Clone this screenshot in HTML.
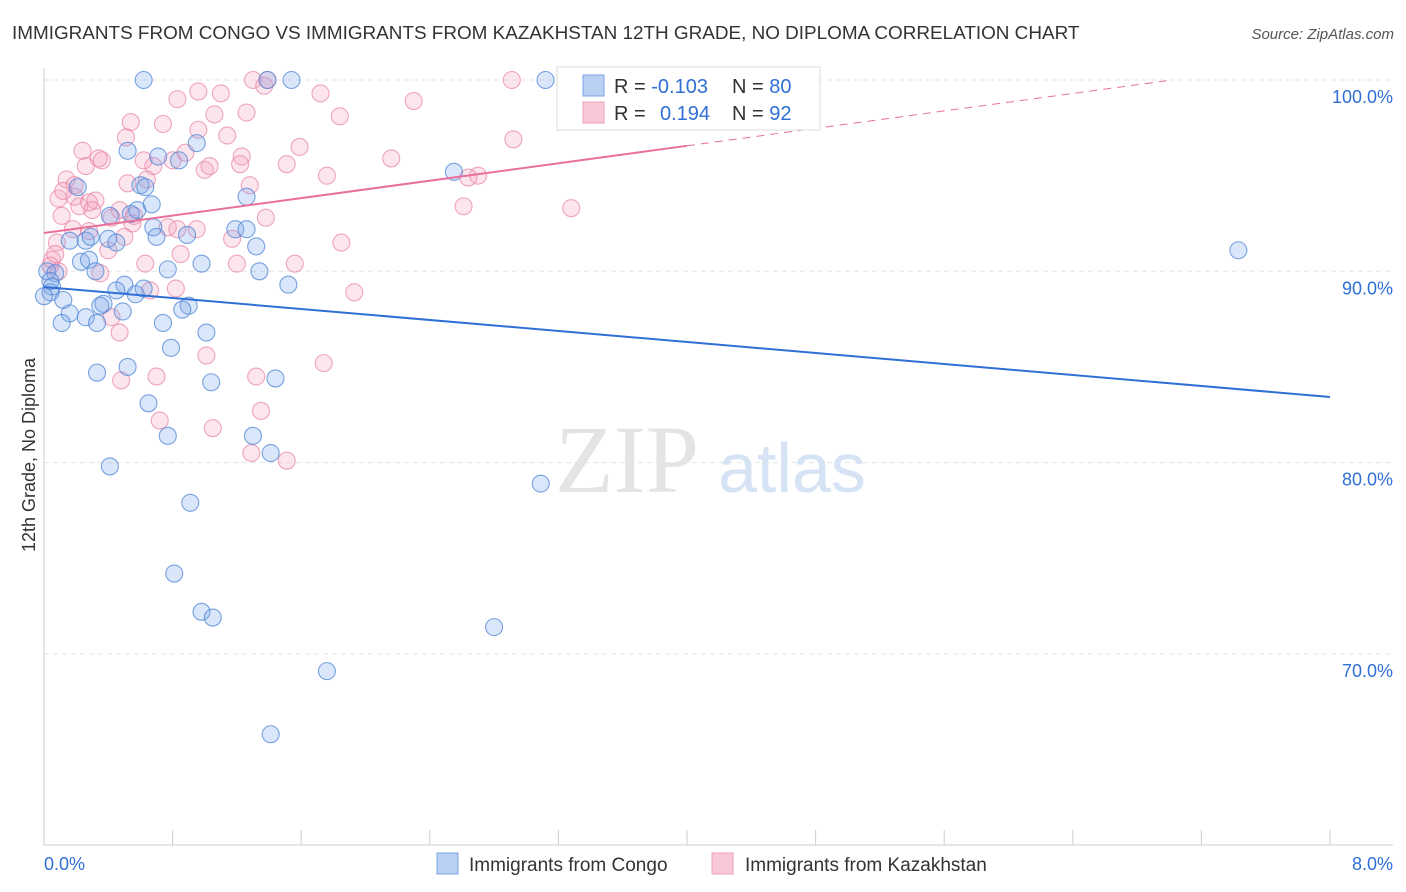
<!DOCTYPE html>
<html><head><meta charset="utf-8">
<style>
body{margin:0;background:#fff;font-family:"Liberation Sans",sans-serif;}
svg{display:block}
</style></head>
<body>
<svg id="chart" width="1406" height="892" xmlns="http://www.w3.org/2000/svg">
<text x="12" y="39" font-size="18.9" fill="#333">IMMIGRANTS FROM CONGO VS IMMIGRANTS FROM KAZAKHSTAN 12TH GRADE, NO DIPLOMA CORRELATION CHART</text>
<text x="1394" y="39" font-size="15" fill="#555" text-anchor="end" font-style="italic">Source: ZipAtlas.com</text>
<g id="grid"></g>
<text x="555" y="492" font-size="96" fill="#e4e4e4" font-family="Liberation Serif,serif">ZIP</text>
<text x="718" y="492" font-size="70" fill="#d6e3f5">atlas</text>
<g id="marks"></g>
<g id="lines"></g>
<text transform="translate(35,455) rotate(-90)" font-size="18" fill="#333" text-anchor="middle">12th Grade, No Diploma</text>
<g>
<rect x="557" y="67" width="263" height="63" fill="#fff" stroke="#ddd"/>
<rect x="583" y="75" width="21" height="21" fill="#b9d0f3" stroke="#7aa5e6"/>
<rect x="583" y="102" width="21" height="21" fill="#f9c8d7" stroke="#eea0b9"/>
<text x="614" y="93" font-size="20" fill="#333">R = <tspan fill="#2f6fd6">-0.103</tspan></text>
<text x="732" y="93" font-size="20" fill="#333">N = <tspan fill="#2f6fd6">80</tspan></text>
<text x="614" y="120" font-size="20" fill="#333">R = </text>
<text x="660" y="120" font-size="20" fill="#2f6fd6">0.194</text>
<text x="732" y="120" font-size="20" fill="#333">N = <tspan fill="#2f6fd6">92</tspan></text>
</g>
<g>
<rect x="437" y="853" width="21" height="21" fill="#b9d0f3" stroke="#7aa5e6"/>
<text x="469" y="871" font-size="19" fill="#333">Immigrants from Congo</text>
<rect x="712" y="853" width="21" height="21" fill="#f9c8d7" stroke="#eea0b9"/>
<text x="745" y="871" font-size="19" fill="#333">Immigrants from Kazakhstan</text>
</g>
<text x="44" y="870" font-size="18" fill="#2f6fd6">0.0%</text>
<text x="1393" y="870" font-size="18" fill="#2f6fd6" text-anchor="end">8.0%</text>
</svg>
<script>
const yTicks=[100,90,80,70];
const yTickLabels=["100.0%","90.0%","80.0%","70.0%"];
const congoX=[0.62,1.39,1.54,3.12,0.95,0.52,0.71,0.84,2.55,0.60,0.63,0.21,1.26,0.67,0.41,0.54,0.58,1.19,1.26,0.68,0.70,0.89,0.16,0.26,0.29,0.40,0.45,1.32,0.23,0.28,0.98,0.77,1.34,0.02,0.07,0.32,1.52,0.05,0.04,0.12,0.50,0.45,0.62,0.57,0.37,0.35,0.90,0.86,0.16,0.49,0.11,0.26,0.33,0.74,1.01,0.79,0.52,0.33,1.44,1.04,0.65,0.77,1.30,1.41,0.41,3.09,0.91,0.81,0.98,1.05,2.80,1.76,1.41,7.43,0.00,0.04];
const congoY=[100,100,100,100,96.7,96.3,96.0,95.8,95.2,94.5,94.4,94.4,93.9,93.5,92.9,93.0,93.2,92.2,92.2,92.3,91.8,91.9,91.6,91.6,91.8,91.7,91.5,91.3,90.5,90.6,90.4,90.1,90.0,90.0,89.9,90.0,89.3,89.2,88.9,88.5,89.3,89.0,89.1,88.8,88.3,88.2,88.2,88.0,87.8,87.9,87.3,87.6,87.3,87.3,86.8,86.0,85.0,84.7,84.4,84.2,83.1,81.4,81.4,80.5,79.8,78.9,77.9,74.2,72.2,71.9,71.4,69.1,65.8,91.1,88.7,89.5];
const kazX=[1.30,1.39,2.91,1.37,0.96,1.10,0.83,1.72,2.30,1.26,1.84,0.54,1.06,0.74,0.96,0.51,2.92,1.14,0.24,1.59,0.88,0.80,1.23,1.22,1.51,0.36,2.16,0.26,0.68,1.00,1.03,2.70,2.64,1.76,0.14,0.52,0.64,0.19,1.28,0.19,0.09,0.32,0.28,0.22,0.47,0.11,0.42,0.30,0.55,1.38,2.61,3.28,0.77,0.95,0.18,0.28,0.50,1.17,0.08,1.85,0.40,0.85,1.20,1.56,0.63,0.35,0.04,0.09,0.82,0.66,1.93,0.42,0.47,1.01,1.74,0.48,0.70,1.32,0.72,1.05,1.35,1.29,1.51,0.05,0.07,0.12,0.34,0.62,0.83,0.56];
const kazY=[100,100,100,99.7,99.4,99.3,99.0,99.3,98.9,98.3,98.1,97.8,98.2,97.7,97.4,97.0,96.9,97.1,96.3,96.5,96.2,95.8,96.0,95.6,95.6,95.8,95.9,95.5,95.5,95.3,95.5,95.0,94.9,95.0,94.8,94.6,94.8,94.5,94.5,93.9,93.8,93.7,93.6,93.4,93.2,92.9,92.8,93.2,92.5,92.8,93.4,93.3,92.3,92.2,92.2,92.1,91.8,91.7,91.5,91.5,91.1,90.9,90.4,90.4,90.4,89.9,90.3,90.0,89.1,89.0,88.9,87.6,86.8,85.6,85.2,84.3,84.5,84.5,82.2,81.8,82.7,80.5,80.1,90.6,90.9,94.2,95.9,95.8,92.2,92.9];
const congoTrend=[89.18,83.43];
const kazTrend=[92.0,1.14];
const NS="http://www.w3.org/2000/svg";
const X0=44,X1=1330,XMAX=8;
const sx=v=>X0+(v/XMAX)*(X1-X0);
const sy=v=>80+(100-v)*19.13;
function mk(tag,attrs,parent){const e=document.createElementNS(NS,tag);for(const k in attrs)e.setAttribute(k,attrs[k]);parent.appendChild(e);return e;}
const grid=document.getElementById('grid');
yTicks.forEach((t,i)=>{
  const l=mk('line',{x1:X0,x2:1393,y1:sy(t),y2:sy(t),stroke:'#e3e3e3','stroke-dasharray':'5,4'},grid);
  
  
  const tx=mk('text',{x:1393,y:sy(t)+23,'font-size':18,fill:'#2f6fd6','text-anchor':'end'},grid);
  tx.textContent=yTickLabels[i];
  
  
});
const ax=mk('line',{x1:X0,x2:X0,y1:68,y2:845,stroke:'#ccc'},grid);


const bx=mk('line',{x1:X0,x2:1393,y1:845,y2:845,stroke:'#ccc'},grid);


for(let i=0;i<=10;i++){const t=mk('line',{x1:sx(i*0.8),x2:sx(i*0.8),y1:830,y2:845,stroke:'#ccc'},grid);
  
  }
const marks=document.getElementById('marks');
function pts(xs,ys,fill,stroke,name){xs.forEach((x,i)=>{
  const c=mk('circle',{cx:sx(x),cy:sy(ys[i]),r:8.5,fill:fill,'fill-opacity':0.28,stroke:stroke,'stroke-width':1.1,'stroke-opacity':0.75},marks);
  
  
});}
pts(kazX,kazY,'#f4a3bd','#e88aa8','kazakhstan-point');
pts(congoX,congoY,'#7aa7e8','#4f86d6','congo-point');
const lines=document.getElementById('lines');
const bl=mk('line',{x1:sx(0),y1:sy(congoTrend[0]),x2:sx(8),y2:sy(congoTrend[1]),stroke:'#2f6fd6','stroke-width':2},lines);


const pk=v=>kazTrend[0]+kazTrend[1]*v;
const pl=mk('line',{x1:sx(0),y1:sy(pk(0)),x2:sx(4),y2:sy(pk(4)),stroke:'#e8709a','stroke-width':2},lines);


const xe=(100-kazTrend[0])/kazTrend[1];
const pd=mk('line',{x1:sx(4),y1:sy(pk(4)),x2:sx(xe),y2:sy(100),stroke:'#e8709a','stroke-width':1,'stroke-dasharray':'8,6'},lines);


</script>
</body></html>
